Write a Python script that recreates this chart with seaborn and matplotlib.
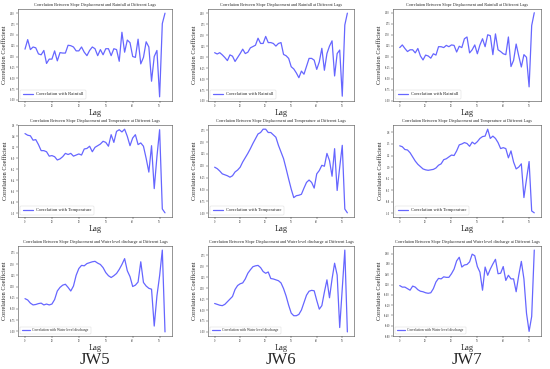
import numpy as np
import pandas as pd
import matplotlib
matplotlib.use("Agg")
import matplotlib.pyplot as plt
import seaborn as sns

# lags 0..52
lags = list(range(53))

# Row 1: rainfall
jw5_rain = [0.17, 0.39, 0.16, 0.22, 0.20, 0.06, 0.04, 0.14, -0.16, -0.06,
            -0.06, 0.13, -0.10, 0.09, 0.08, 0.08, 0.26, 0.25, 0.22, 0.13,
            0.13, 0.22, 0.10, 0.02, 0.14, 0.22, 0.18, 0.02, 0.16, 0.04,
            0.18, 0.18, 0.02, 0.18, 0.16, -0.11, 0.56, 0.10, 0.38, 0.32,
            0.00, -0.02, 0.40, -0.17, -0.02, 0.34, 0.22, -0.57, 0.00, 0.14,
            -0.93, 0.76, 1.00]
jw6_rain = [0.10, 0.07, 0.10, 0.05, -0.01, -0.08, 0.05, 0.02, -0.10, -0.01,
            0.08, 0.18, 0.08, 0.11, 0.21, 0.24, 0.27, 0.43, 0.31, 0.31,
            0.47, 0.33, 0.33, 0.31, 0.25, 0.31, 0.33, 0.06, 0.03, -0.03,
            -0.22, -0.27, -0.36, -0.47, -0.32, -0.39, -0.21, -0.03, -0.03, -0.07,
            -0.28, -0.11, 0.20, -0.30, 0.08, 0.25, 0.37, -0.43, 0.08, 0.16,
            -0.89, 0.73, 1.00]
jw7_rain = [0.21, 0.27, 0.19, 0.12, 0.16, 0.16, 0.09, 0.19, 0.02, -0.07,
            0.04, 0.02, -0.03, 0.07, 0.04, 0.23, 0.23, 0.21, 0.26, 0.23,
            0.27, 0.26, 0.11, 0.24, 0.21, 0.41, 0.45, 0.09, 0.16, 0.27,
            0.07, 0.27, 0.41, 0.23, 0.50, 0.48, 0.05, 0.52, 0.16, 0.12,
            0.07, 0.05, 0.45, -0.22, -0.08, 0.29, 0.02, -0.23, 0.05, -0.01,
            -0.68, 0.71, 1.00]

# Row 2: temperature
jw5_temp = [0.45, 0.42, 0.41, 0.33, 0.34, 0.25, 0.14, 0.14, 0.12, 0.04,
            0.05, 0.03, -0.03, -0.01, 0.03, 0.09, 0.07, 0.09, 0.04, 0.06,
            0.08, 0.06, 0.17, 0.18, 0.22, 0.12, 0.20, 0.23, 0.26, 0.31,
            0.29, 0.22, 0.43, 0.29, 0.49, 0.52, 0.48, 0.53, 0.40, 0.23,
            0.37, 0.43, 0.25, 0.28, 0.22, 0.00, -0.25, 0.23, -0.55, 0.03,
            0.52, -0.92, -0.99]
jw6_temp = [-0.03, -0.06, -0.11, -0.17, -0.19, -0.21, -0.24, -0.21, -0.13, -0.09,
            -0.03, 0.08, 0.17, 0.26, 0.36, 0.47, 0.57, 0.67, 0.70, 0.77,
            0.77, 0.70, 0.70, 0.65, 0.60, 0.43, 0.29, 0.15, -0.06, -0.28,
            -0.49, -0.67, -0.63, -0.62, -0.60, -0.47, -0.35, -0.30, -0.35, -0.47,
            -0.17, -0.10, 0.01, -0.01, 0.26, 0.11, -0.22, 0.36, -0.52, -0.03,
            0.43, -0.91, -0.99]
jw7_temp = [0.46, 0.44, 0.38, 0.37, 0.31, 0.22, 0.13, 0.06, 0.01, -0.04,
            -0.06, -0.07, -0.06, -0.05, -0.02, 0.04, 0.07, 0.16, 0.18, 0.22,
            0.26, 0.25, 0.35, 0.48, 0.50, 0.53, 0.51, 0.45, 0.54, 0.50,
            0.55, 0.62, 0.66, 0.67, 0.82, 0.62, 0.67, 0.62, 0.53, 0.40,
            0.42, 0.40, 0.20, 0.35, 0.11, -0.04, 0.00, 0.07, -0.66, -0.26,
            0.12, -0.95, -0.99]

# Row 3: water level discharge
jw5_water = [-0.27, -0.30, -0.37, -0.41, -0.40, -0.38, -0.37, -0.41, -0.39, -0.41,
             -0.39, -0.29, -0.10, -0.02, 0.03, 0.05, -0.02, -0.10, 0.01, 0.25,
             0.40, 0.47, 0.46, 0.51, 0.53, 0.55, 0.56, 0.52, 0.49, 0.42,
             0.31, 0.24, 0.20, 0.24, 0.29, 0.38, 0.49, 0.62, 0.35, 0.22,
             0.00, 0.03, 0.10, 0.55, 0.09, 0.01, -0.04, -0.06, -0.88, -0.21,
             0.24, 0.81, -1.01]
jw6_water = [-0.35, -0.37, -0.39, -0.40, -0.37, -0.31, -0.25, -0.19, -0.03, 0.06,
             0.10, 0.12, 0.21, 0.34, 0.42, 0.49, 0.51, 0.52, 0.47, 0.38,
             0.34, 0.37, 0.22, 0.21, 0.19, 0.17, 0.12, -0.01, -0.18, -0.39,
             -0.57, -0.63, -0.63, -0.60, -0.50, -0.33, -0.16, -0.07, -0.05, -0.06,
             -0.28, -0.48, -0.40, -0.09, 0.19, -0.22, 0.21, 0.57, 0.30, -0.90,
             -0.01, 0.87, -1.00]
jw7_water = [0.18, 0.15, 0.15, 0.12, 0.09, 0.17, 0.15, 0.10, 0.07, 0.06,
             0.04, 0.03, 0.04, 0.12, 0.25, 0.32, 0.31, 0.35, 0.34, 0.34,
             0.41, 0.50, 0.66, 0.73, 0.54, 0.58, 0.59, 0.64, 0.79, 0.76,
             0.55, 0.44, 0.09, 0.54, 0.38, 0.50, 0.60, 0.69, 0.41, 0.42,
             0.55, 0.28, 0.38, 0.31, 0.31, 0.06, 0.38, 0.65, 0.31, -0.36,
             -0.71, -0.42, 0.87]

factors = ["Rainfall", "Temperature", "Water level discharge"]
wells = ["JW5", "JW6", "JW7"]
series = [[jw5_rain, jw6_rain, jw7_rain],
          [jw5_temp, jw6_temp, jw7_temp],
          [jw5_water, jw6_water, jw7_water]]
ytick_sets = [[np.arange(-1.0, 1.01, 0.25)] * 3,
              [np.arange(-1.0, 0.61, 0.2), np.arange(-1.0, 0.76, 0.25), np.arange(-1.0, 0.76, 0.25)],
              [np.arange(-1.0, 0.76, 0.25), np.arange(-1.0, 0.76, 0.25), np.arange(-0.8, 0.81, 0.2)]]

sns.set_theme(style="ticks")
plt.rcParams['font.family'] = ['Liberation Serif', 'DejaVu Serif']

fig = plt.figure(figsize=(5.5, 3.69), dpi=100)

col_left = [18, 208, 393]
col_width = [154, 146, 148]
row_top = [9, 125, 246]
row_bottom = [101, 217, 336]
W, H = 550.0, 369.0

for r in range(3):
    for c in range(3):
        ax = fig.add_axes([col_left[c] / W, 1 - row_bottom[r] / H,
                           col_width[c] / W, (row_bottom[r] - row_top[r]) / H])
        df = pd.DataFrame({"Lag": lags, "corr": series[r][c]})
        sns.lineplot(data=df, x="Lag", y="corr", ax=ax, color="blue", alpha=0.6,
                     linewidth=0.9, label=f"Correlation with {factors[r]}")
        ax.set_title(f"Correlation Between Slope Displacement and {factors[r]} at Different Lags",
                     fontsize=3.1, pad=2)
        ax.set_xlabel("Lag", fontsize=6, labelpad=1)
        ax.set_ylabel("Correlation Coefficient", fontsize=4.5, labelpad=2)
        ax.set_xticks([0, 10, 20, 30, 40, 50])
        yt = ytick_sets[r][c]
        ax.set_yticks(yt)
        ax.set_yticklabels([f"{v:.2f}" if r != 1 or c == 1 else f"{v:.1f}" for v in yt])
        ax.tick_params(labelsize=1.8, length=1.2, width=0.3, pad=1)
        for s in ax.spines.values():
            s.set_linewidth(0.4)
            s.set_color("#444444")
        leg = ax.legend(loc="lower left", fontsize=3.3 if r < 2 else 2.6,
                        handlelength=2.2, borderpad=0.5, frameon=True)
        leg.get_frame().set_linewidth(0.3)

for c in range(3):
    fig.text((col_left[c] + col_width[c] / 2) / W, 1 - 360 / H, wells[c],
             ha="center", va="center", fontsize=12)

fig.savefig("out.png", dpi=100, facecolor="white")
